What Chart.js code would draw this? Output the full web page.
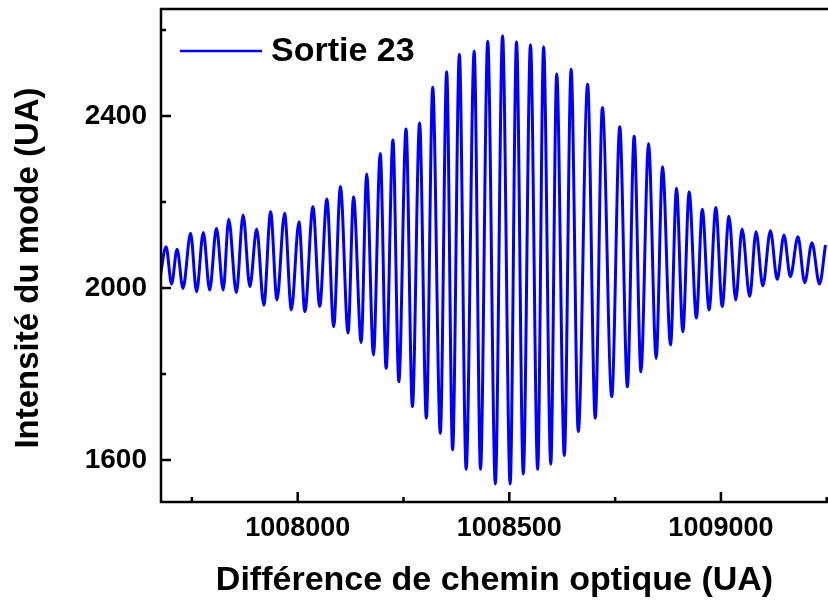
<!DOCTYPE html>
<html>
<head>
<meta charset="utf-8">
<title>Sortie 23</title>
<script src="https://cdn.jsdelivr.net/npm/chart.js@4.4.0/dist/chart.umd.min.js"></script>
<style>
  html, body { margin: 0; padding: 0; background: #ffffff; }
  #wrap { width: 828px; height: 603px; position: relative; }
</style>
</head>
<body>
<div id="wrap"><canvas id="chart"></canvas></div>
<script>
// Fringe maxima / minima
const peakX = [1007689, 1007715, 1007747, 1007777, 1007808, 1007837, 1007871, 1007903, 1007936, 1007969,
               1008003, 1008036, 1008069, 1008101, 1008132, 1008163, 1008195, 1008225, 1008256, 1008288,
               1008319, 1008352, 1008382, 1008417, 1008449, 1008484, 1008517, 1008550, 1008581, 1008612,
               1008646, 1008685, 1008720, 1008761, 1008795, 1008829, 1008862, 1008895, 1008925, 1008956,
               1008988, 1009019, 1009050, 1009083, 1009117, 1009149, 1009182, 1009215, 1009247];
const peakY = [2096, 2090, 2127, 2129, 2139, 2160, 2170, 2137, 2177, 2174,
               2154, 2189, 2207, 2236, 2212, 2265, 2313, 2344, 2370, 2384,
               2467, 2503, 2544, 2551, 2574, 2587, 2573, 2566, 2561, 2498,
               2509, 2474, 2420, 2375, 2353, 2336, 2282, 2232, 2224, 2183,
               2187, 2167, 2137, 2131, 2133, 2123, 2119, 2105, 2100];
const troughX = [1007675, 1007702, 1007729, 1007761, 1007792, 1007824, 1007855, 1007887, 1007920, 1007951,
                 1007985, 1008017, 1008052, 1008085, 1008119, 1008150, 1008179, 1008209, 1008239, 1008271,
                 1008304, 1008337, 1008366, 1008398, 1008432, 1008467, 1008502, 1008533, 1008567, 1008598,
                 1008630, 1008663, 1008703, 1008742, 1008779, 1008811, 1008847, 1008881, 1008910, 1008942,
                 1008972, 1009003, 1009035, 1009068, 1009099, 1009133, 1009164, 1009198, 1009233];
const troughY = [2026, 2009, 1999, 1991, 1995, 1995, 1989, 2003, 1960, 1972,
                 1949, 1945, 1957, 1910, 1895, 1873, 1844, 1813, 1782, 1724,
                 1697, 1662, 1623, 1578, 1578, 1544, 1544, 1567, 1578, 1590,
                 1610, 1666, 1697, 1747, 1770, 1805, 1836, 1867, 1898, 1930,
                 1949, 1957, 1972, 1980, 2005, 2020, 2026, 2012, 2009];

// Axis ticks
const xMajorTicks = [1008000, 1008500, 1009000];
const xMinorTicks = [1007750, 1008250, 1008750, 1009250];
const yMajorTicks = [1600, 2000, 2400];
const yMinorTicks = [1800, 2200, 2600];

const seriesLabel = 'Sortie 23';
const xTitle = 'Différence de chemin optique (UA)';
const yTitle = 'Intensité du mode (UA)';

const FONT = '"Liberation Sans", Arial, sans-serif';
const BLUE = '#0000ff';

// Build the trace: minimum, maximum, minimum, ...
const points = [];
for (let i = 0; i < troughX.length; i++) {
    points.push({ x: troughX[i], y: troughY[i] });
    if (i < peakX.length) points.push({ x: peakX[i], y: peakY[i] });
}

// Frame, inward tick marks, y title and legend
const framePlugin = {
    id: 'frame',
    afterDraw(chart) {
        const { ctx, chartArea: a, scales } = chart;
        const xs = scales.x, ys = scales.y;
        ctx.save();
        ctx.strokeStyle = '#000';
        ctx.lineWidth = 2.5;
        ctx.beginPath();
        ctx.moveTo(a.right + 5, a.top);
        ctx.lineTo(a.left, a.top);
        ctx.lineTo(a.left, a.bottom);
        ctx.lineTo(a.right + 5, a.bottom);
        ctx.stroke();

        ctx.beginPath();
        xMajorTicks.forEach(v => {
            const px = xs.getPixelForValue(v);
            ctx.moveTo(px, a.bottom); ctx.lineTo(px, a.bottom - 10);
        });
        xMinorTicks.forEach(v => {
            const px = xs.getPixelForValue(v);
            ctx.moveTo(px, a.bottom); ctx.lineTo(px, a.bottom - 5);
        });
        yMajorTicks.forEach(v => {
            const py = ys.getPixelForValue(v);
            ctx.moveTo(a.left, py); ctx.lineTo(a.left + 10, py);
        });
        yMinorTicks.forEach(v => {
            const py = ys.getPixelForValue(v);
            ctx.moveTo(a.left, py); ctx.lineTo(a.left + 5, py);
        });
        ctx.stroke();

        // y axis title (sits a bit below the axis middle in the original)
        ctx.save();
        ctx.translate(29, 268);
        ctx.rotate(-Math.PI / 2);
        ctx.fillStyle = '#000';
        ctx.font = 'bold 33px ' + FONT;
        ctx.textAlign = 'center';
        ctx.textBaseline = 'middle';
        ctx.fillText(yTitle, 0, 0);
        ctx.restore();

        // legend
        ctx.strokeStyle = BLUE;
        ctx.lineWidth = 2.5;
        ctx.beginPath();
        ctx.moveTo(180, 51);
        ctx.lineTo(262, 51);
        ctx.stroke();
        ctx.fillStyle = '#000';
        ctx.font = 'bold 34px ' + FONT;
        ctx.textBaseline = 'middle';
        ctx.textAlign = 'left';
        ctx.fillText(seriesLabel, 271, 52);
        ctx.restore();
    }
};

const chart = new Chart(document.getElementById('chart'), {
    type: 'line',
    data: {
        datasets: [{
            label: seriesLabel,
            data: points,
            borderColor: BLUE,
            borderWidth: 3,
            pointRadius: 0,
            fill: false,
            cubicInterpolationMode: 'monotone'
        }]
    },
    options: {
        responsive: true,
        maintainAspectRatio: false,
        animation: false,
        layout: { padding: { top: 9, right: 0, left: 0, bottom: 0 } },
        plugins: {
            legend: { display: false },
            tooltip: { enabled: false }
        },
        scales: {
            x: {
                type: 'linear',
                min: 1007677,
                max: 1009253,
                border: { display: false },
                grid: { display: false, drawTicks: false },
                afterBuildTicks: s => { s.ticks = xMajorTicks.map(v => ({ value: v })); },
                afterFit: s => { s.height = 101; s.paddingLeft = 0; s.paddingRight = 0; },
                ticks: {
                    color: '#000',
                    padding: 10,
                    maxRotation: 0,
                    font: { family: FONT, size: 27, weight: 'bold' },
                    callback: v => String(v)
                },
                title: {
                    display: true,
                    text: xTitle,
                    color: '#000',
                    padding: { top: 0, bottom: 2 },
                    font: { family: FONT, size: 34, weight: 'bold' }
                }
            },
            y: {
                min: 1502,
                max: 2649,
                border: { display: false },
                grid: { display: false, drawTicks: false },
                afterBuildTicks: s => { s.ticks = yMajorTicks.map(v => ({ value: v })); },
                afterFit: s => { s.width = 161; s.paddingTop = 0; s.paddingBottom = 0; },
                ticks: {
                    color: '#000',
                    padding: 14,
                    font: { family: FONT, size: 28, weight: 'bold' },
                    callback: v => String(v)
                },
                title: { display: false }
            }
        }
    },
    plugins: [framePlugin]
});
</script>
</body>
</html>
